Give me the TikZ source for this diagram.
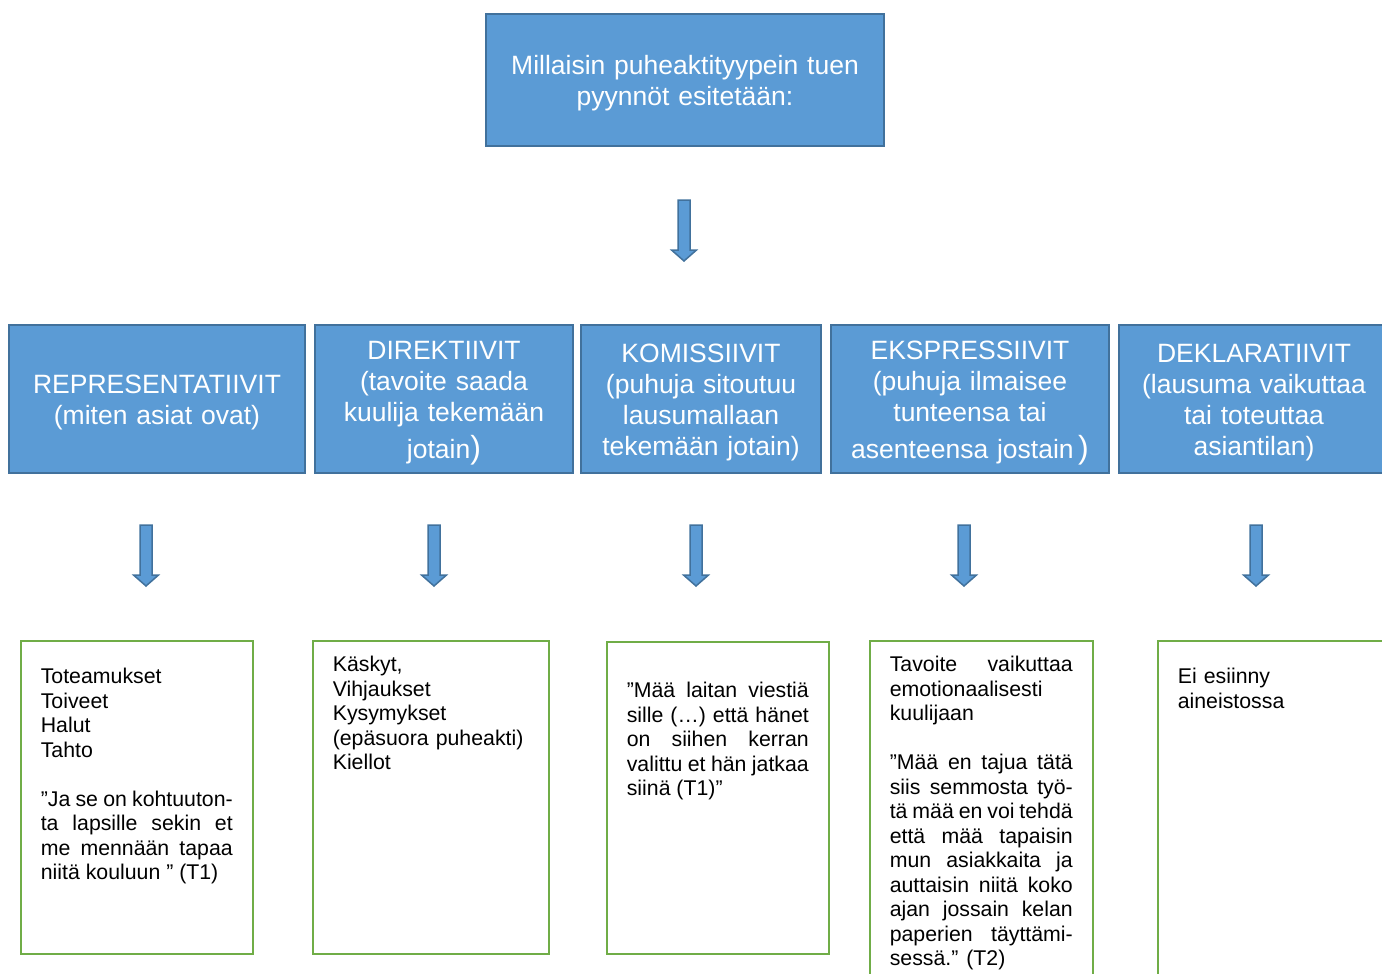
\documentclass[tikz,border=0pt]{standalone}
\usepackage{fontspec}
\setmainfont{Liberation Sans}
\usepackage{xcolor}
\usepackage{tikz}
\definecolor{boxblue}{HTML}{5B9BD5}
\definecolor{edgeblue}{HTML}{41719C}
\definecolor{boxgreen}{HTML}{70AD47}
\begin{document}
\begin{tikzpicture}[x=1pt,y=-1pt,
bluebox/.style={draw=edgeblue,fill=boxblue,line width=2pt,text=white,align=center,inner sep=0pt,font=\fontsize{26.5}{31}\selectfont,minimum height=148pt,execute at begin node={\rule{0pt}{26pt}}},
greenbox/.style={draw=boxgreen,line width=2.8pt,inner sep=0pt},
boxtext/.style={anchor=north west,inner sep=0pt,font=\fontsize{21.3}{24.5}\selectfont,execute at begin node={\hyphenpenalty=10000\rule{0pt}{18pt}}},
blockarrow/.pic={\draw[draw=edgeblue,fill=boxblue,line width=1.5pt](-6,0)--(6,0)--(6,50)--(12.5,50)--(0,61)--(-12.5,50)--(-6,50)--cycle;}]
\clip(0,0)rectangle(1382,974);
%%% top
\node[bluebox,minimum width=398pt,text width=384pt,minimum height=132pt](kysymys)at(685,80){Millaisin puheaktityypein tuen\\pyynnöt esitetään:};
\pic at(684,200){blockarrow};
%%% puheaktityypit
\node[bluebox,minimum width=296pt,text width=284pt](repr)at(157,399){REPRESENTATIIVIT\\(miten asiat ovat)};
\node[bluebox,minimum width=258pt,text width=246pt](dir)at(444,399){DIREKTIIVIT\\(tavoite saada\\kuulija tekemään\\[6pt]jotain{\fontsize{32}{32}\selectfont)}};
\node[bluebox,minimum width=240pt,text width=228pt](kom)at(701,399){KOMISSIIVIT\\(puhuja sitoutuu\\lausumallaan\\tekemään jotain)};
\node[bluebox,minimum width=278pt,text width=266pt](eks)at(970,399){EKSPRESSIIVIT\\(puhuja ilmaisee\\tunteensa tai\\[6pt]asenteensa jostain\,{\fontsize{32}{32}\selectfont)}};
\node[bluebox,minimum width=270pt,text width=258pt](dekl)at(1254,399){DEKLARATIIVIT\\(lausuma vaikuttaa\\tai toteuttaa\\asiantilan)};
\foreach \x in {146,434,696,964,1256}
  \pic at(\x,525){blockarrow};
%%% esimerkit
\node[greenbox,minimum width=232pt,minimum height=313pt](esim1)at(137,797.5){};
\node[greenbox,minimum width=236pt,minimum height=313pt](esim2)at(431,797.5){};
\node[greenbox,minimum width=222pt,minimum height=312pt](esim3)at(718,798){};
\node[greenbox,minimum width=223pt,minimum height=358pt](esim4)at(981.5,820){};
\node[greenbox,minimum width=240pt,minimum height=358pt](esim5)at(1278,820){};
\node[boxtext,text width=192pt,align=justify](teksti1)at([shift={(21,26)}]esim1.north west){Toteamukset\\Toiveet\\Halut\\Tahto\\[24.5pt]”Ja se on kohtuuton-\linebreak ta lapsille sekin et\linebreak me mennään tapaa\linebreak niitä kouluun ” (T1)};
\node[boxtext,text width=196pt,align=left](teksti2)at([shift={(21,14)}]esim2.north west){Käskyt,\\Vihjaukset\\Kysymykset\\(epäsuora puheakti)\\Kiellot};
\node[boxtext,text width=182pt,align=justify](teksti3)at([shift={(21,39)}]esim3.north west){”Mää laitan viestiä\linebreak sille (…) että hänet\linebreak on siihen kerran\linebreak valittu et hän jatkaa\linebreak siinä (T1)”};
\node[boxtext,text width=183pt,align=justify](teksti4)at([shift={(21,14)}]esim4.north west){Tavoite vaikuttaa\linebreak emotionaalisesti\linebreak kuulijaan\\[24.5pt]”Mää en tajua tätä\linebreak siis semmosta työ-\linebreak tä mää en voi tehdä\linebreak että mää tapaisin\linebreak mun asiakkaita ja\linebreak auttaisin niitä koko\linebreak ajan jossain kelan\linebreak paperien täyttämi-\linebreak sessä.” (T2)};
\node[boxtext,text width=200pt,align=left](teksti5)at([shift={(21,26)}]esim5.north west){Ei esiinny\\aineistossa};
\end{tikzpicture}
\end{document}
